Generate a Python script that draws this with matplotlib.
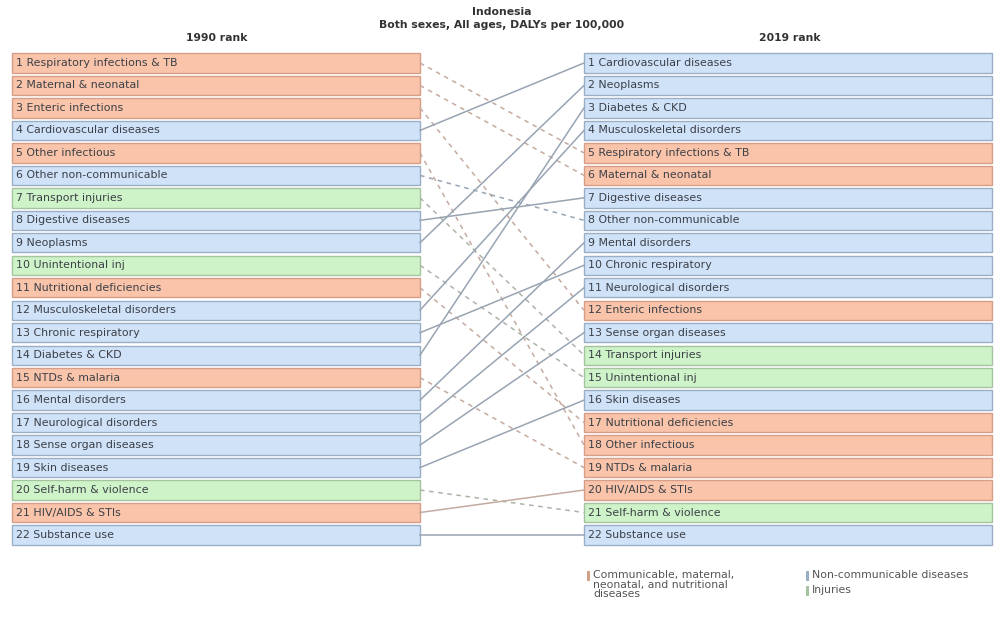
import matplotlib.pyplot as plt
from matplotlib.patches import Rectangle

# ranking data (1990 order) -> rank in 2019
causes = ["Respiratory infections & TB", "Maternal & neonatal", "Enteric infections",
          "Cardiovascular diseases", "Other infectious", "Other non-communicable",
          "Transport injuries", "Digestive diseases", "Neoplasms", "Unintentional inj",
          "Nutritional deficiencies", "Musculoskeletal disorders", "Chronic respiratory",
          "Diabetes & CKD", "NTDs & malaria", "Mental disorders", "Neurological disorders",
          "Sense organ diseases", "Skin diseases", "Self-harm & violence",
          "HIV/AIDS & STIs", "Substance use"]
group = ["C", "C", "C", "N", "C", "N", "I", "N", "N", "I", "C", "N", "N", "N", "C",
         "N", "N", "N", "N", "I", "C", "N"]
rank_1990 = list(range(1, 23))
rank_2019 = [5, 6, 12, 1, 18, 8, 14, 7, 2, 15, 17, 4, 10, 3, 19, 9, 11, 13, 16, 21, 20, 22]

fill = {"C": "#f9c4a9", "N": "#cfe2f8", "I": "#cff3c8"}
edge = {"C": "#d49e88", "N": "#9aafc6", "I": "#a4c4a0"}
line_col = {"C": "#c4aaa0", "N": "#98a4b2", "I": "#aab4a6"}
txt_col = "#3c4048"

fig = plt.figure(figsize=(10.04, 6.27), dpi=100)
ax = fig.add_axes([0, 0, 1, 1])
ax.set_xlim(0, 1004)
pitch = (535 - 63) / 21
ax.set_ylim(22 + (627 - 535) / pitch, 1 - 63 / pitch)
ax.axis("off")

L0, L1 = 12, 420
R0, R1 = 584, 992
h = 0.86

for i, name in enumerate(causes):
    g = group[i]
    r0, r1 = rank_1990[i], rank_2019[i]
    ax.add_patch(Rectangle((L0, r0 - h / 2), L1 - L0, h, facecolor=fill[g],
                           edgecolor=edge[g], lw=1.0))
    ax.text(L0 + 4, r0, f"{r0} {name}", va="center", ha="left", fontsize=7.9, color=txt_col)
    ax.add_patch(Rectangle((R0, r1 - h / 2), R1 - R0, h, facecolor=fill[g],
                           edgecolor=edge[g], lw=1.0))
    ax.text(R0 + 4, r1, f"{r1} {name}", va="center", ha="left", fontsize=7.9, color=txt_col)
    ls = (0, (3, 3)) if r1 > r0 else "-"
    ax.plot([L1, R0], [r0, r1], color=line_col[g], lw=1.1, ls=ls)

fig.text(502 / 1004, 1 - 12 / 627, "Indonesia", ha="center", va="center",
         fontsize=7.8, fontweight="bold", color="#333333")
fig.text(502 / 1004, 1 - 25 / 627, "Both sexes, All ages, DALYs per 100,000", ha="center",
         va="center", fontsize=7.8, fontweight="bold", color="#333333")
fig.text(217 / 1004, 1 - 38 / 627, "1990 rank", ha="center", va="center",
         fontsize=7.8, fontweight="bold", color="#333333")
fig.text(790 / 1004, 1 - 38 / 627, "2019 rank", ha="center", va="center",
         fontsize=7.8, fontweight="bold", color="#333333")

# legend
leg = [("C", 587, 571, "Communicable, maternal,\nneonatal, and nutritional\ndiseases"),
       ("N", 806, 571, "Non-communicable diseases"),
       ("I", 806, 586, "Injuries")]
for g, x, y, lab in leg:
    fig.add_artist(Rectangle((x / 1004, 1 - (y + 10) / 627), 3 / 1004, 10 / 627,
                             facecolor=edge[g], edgecolor="none",
                             transform=fig.transFigure))
    fig.text((x + 6) / 1004, 1 - (y - 1) / 627, lab, ha="left", va="top",
             fontsize=7.8, color="#555555", linespacing=0.95)

fig.savefig("out.png", dpi=100)
